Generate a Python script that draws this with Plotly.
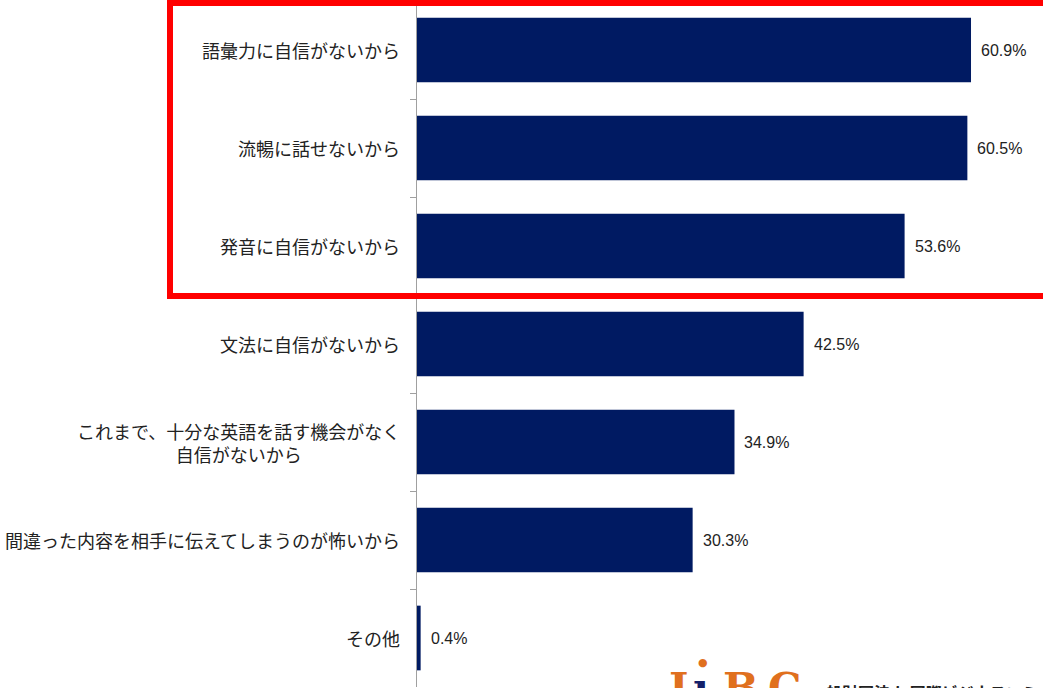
import plotly.graph_objects as go

categories = [
    "語彙力に自信がないから",
    "流暢に話せないから",
    "発音に自信がないから",
    "文法に自信がないから",
    "これまで、十分な英語を話す機会がなく<br>自信がないから",
    "間違った内容を相手に伝えてしまうのが怖いから",
    "その他",
]
values = [60.9, 60.5, 53.6, 42.5, 34.9, 30.3, 0.4]
value_labels = ["60.9%", "60.5%", "53.6%", "42.5%", "34.9%", "30.3%", "0.4%"]

W, H = 1043, 688
L, R, T, B = 417, 0, 1, 1
PW, PH = W - L - R, H - T - B


def px_x(px):
    return (px - L) / PW


def px_y(py):
    return (H - B - py) / PH


BAR = "#001A62"
JP = "Noto Sans CJK JP"

fig = go.Figure()
fig.add_trace(go.Bar(
    x=values, y=categories, orientation="h",
    marker=dict(color=BAR, line=dict(width=0)),
    width=0.66, hoverinfo="skip",
))

annotations = []
for c, v, t in zip(categories, values, value_labels):
    annotations.append(dict(
        x=v, y=c, xref="x", yref="y", text=t, showarrow=False,
        xanchor="left", yanchor="middle", xshift=8,
        font=dict(family="Liberation Sans", size=16, color="#222222"),
    ))
    annotations.append(dict(
        x=px_x(402), y=c, xref="paper", yref="y", text=c, showarrow=False,
        xanchor="right", yanchor="middle", align="center",
        font=dict(family=JP, size=18, color="#222222"),
    ))

# logo
ORANGE = "#E0701E"
NAVY = "#14206A"
logo_font = dict(family="DejaVu Serif", size=42)
for ch, px, col in [("I", 667, ORANGE), ("ı", 691, NAVY), ("B", 721, ORANGE), ("C", 766, ORANGE)]:
    annotations.append(dict(
        x=px_x(px), y=px_y(662), xref="paper", yref="paper", text="<b>%s</b>" % ch,
        showarrow=False, xanchor="left", yanchor="top",
        font=dict(logo_font, color=col),
    ))
annotations.append(dict(
    x=px_x(703), y=px_y(662), xref="paper", yref="paper", text="●",
    showarrow=False, xanchor="center", yanchor="middle",
    font=dict(family="DejaVu Sans", size=11, color=ORANGE),
))
annotations.append(dict(
    x=px_x(808), y=px_y(678), xref="paper", yref="paper",
    text="<b>一般財団法人 国際ビジネスコミュニケーション協会</b>",
    showarrow=False, xanchor="left", yanchor="top",
    font=dict(family=JP, size=16, color="#222222"),
))

fig.update_layout(
    width=W, height=H,
    margin=dict(l=L, r=R, t=T, b=B, pad=0),
    paper_bgcolor="white", plot_bgcolor="white",
    showlegend=False,
    bargap=0.34,
    xaxis=dict(range=[0, PW / 9.097], visible=False, showgrid=False, zeroline=False),
    yaxis=dict(
        autorange="reversed", showticklabels=False,
        showline=True, linecolor="#A0A0A0", linewidth=1,
        ticks="outside", tickson="boundaries", ticklen=6, tickcolor="#A0A0A0",
        showgrid=False, zeroline=False,
    ),
    annotations=annotations,
    shapes=[dict(
        type="rect", xref="paper", yref="paper",
        x0=px_x(170), x1=px_x(1060), y0=px_y(296), y1=px_y(3),
        line=dict(color="#FF0000", width=6), fillcolor="rgba(0,0,0,0)", layer="above",
    )],
)

fig.write_html(
    "out.html",
    config={"displayModeBar": False},
    post_script="document.body.style.margin='0px';document.body.style.overflow='hidden';",
)
